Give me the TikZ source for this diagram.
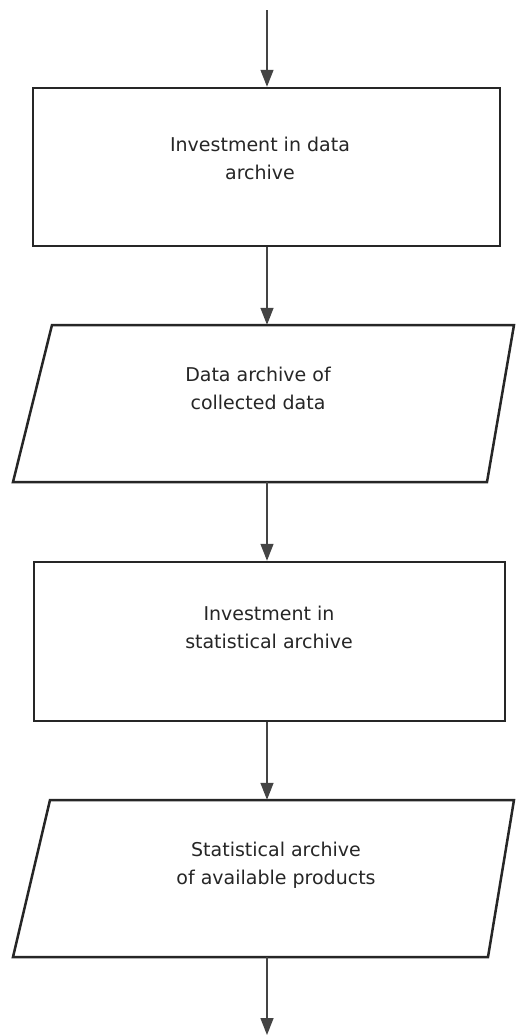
\documentclass[tikz,border=0pt]{standalone}
\usepackage{fontspec}
\setmainfont{DejaVu Sans}
\usetikzlibrary{arrows.meta}
\definecolor{ink}{HTML}{262626}
\definecolor{txt}{HTML}{262626}
\definecolor{arr}{HTML}{444444}
\begin{document}
\begin{tikzpicture}[x=1pt,y=-1pt,
  shapebox/.style={draw=ink,line width=2.5pt,minimum width=#1,inner sep=0pt,line join=miter},
  ghost/.style={inner sep=0pt,minimum width=501pt,minimum height=157pt},
  outline/.style={draw=ink,line width=2.5pt,line join=miter},
  label/.style={text=txt,align=center,font=\fontsize{19}{28}\selectfont,inner sep=0pt},
  flow/.style={draw=arr,line width=1.4pt,-{Triangle[length=17pt,width=13pt]}}]
\useasboundingbox[fill=white] (0,0) rectangle (515,1036);
\coordinate (ax) at (267,0);
\coordinate (start) at (267,10);
\coordinate (finish) at (267,1035);
% box 1
\node[shapebox=467pt,minimum height=158pt] (b1) at (266.5,167) {};
\node[label] (t1) at (260,158) {Investment in data\\archive};
% parallelogram 1
\node[ghost] (p1) at (263.5,403.5) {};
\draw[outline] (52,325) -- (514,325) -- (487,482) -- (13,482) -- cycle;
\node[label] (t2) at (258,388) {Data archive of\\collected data};
% box 2
\node[shapebox=471pt,minimum height=159pt] (b2) at (269.5,641.5) {};
\node[label] (t3) at (269,627) {Investment in\\statistical archive};
% parallelogram 2
\node[ghost] (p2) at (263.5,878.5) {};
\draw[outline] (50,800) -- (514,800) -- (488,957) -- (13,957) -- cycle;
\node[label] (t4) at (276,865) {Statistical archive\\of available products};
% connectors
\draw[flow] (start) -- (b1.north -| ax);
\draw[flow] (b1.south -| ax) -- (p1.north -| ax);
\draw[flow] (p1.south -| ax) -- (b2.north -| ax);
\draw[flow] (b2.south -| ax) -- (p2.north -| ax);
\draw[flow] (p2.south -| ax) -- (finish);
\end{tikzpicture}
\end{document}
